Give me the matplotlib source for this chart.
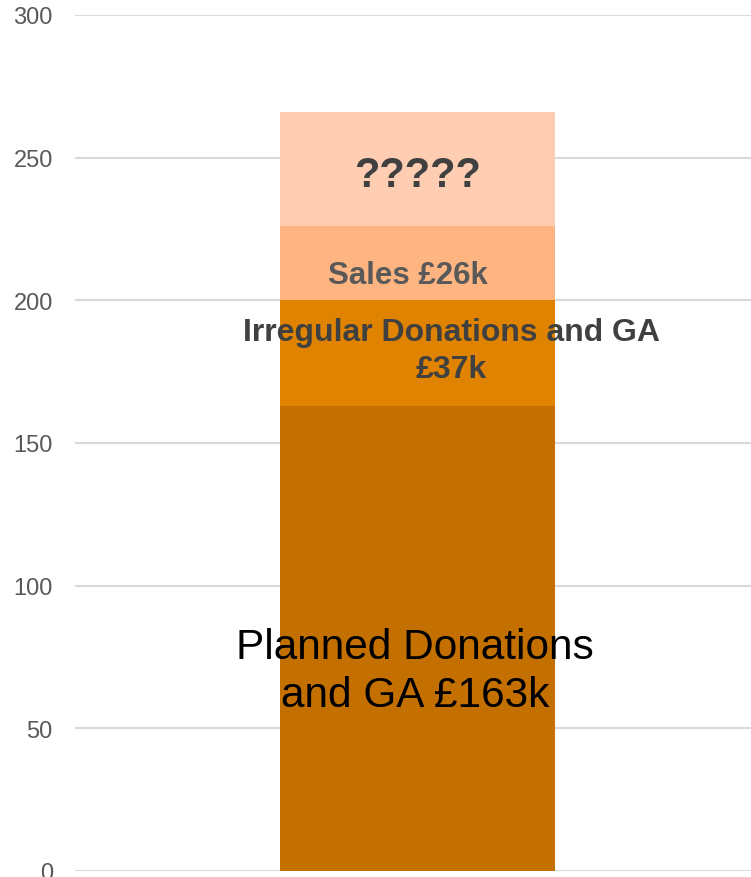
import matplotlib
matplotlib.use("Agg")
import matplotlib.pyplot as plt

plt.rcParams['font.family'] = ['Liberation Sans', 'DejaVu Sans']

categories = ["Income"]
segment_names = ["Planned Donations and GA", "Irregular Donations and GA", "Sales", "Unknown"]
segment_values = [163, 37, 26, 40]
segment_labels = ["Planned Donations\nand GA £163k", "Irregular Donations and GA\n£37k", "Sales £26k", "?????"]
segment_colors = ["#C37000", "#E08300", "#FFB581", "#FFCDB1"]
yticks = [0, 50, 100, 150, 200, 250, 300]

fig = plt.figure(figsize=(7.51, 8.78), dpi=100)
ax = fig.add_axes([75/751, 6/878, 676/751, 856/878])

bottom = 0
bar_w = 0.5
for v, c in zip(segment_values, segment_colors):
    ax.bar(0, v, bottom=bottom, width=bar_w, color=c, zorder=2, linewidth=0)
    bottom += v

ax.set_ylim(0, 300)
ax.set_xlim(-342.5 / 275 * bar_w, 333.5 / 275 * bar_w)
ax.set_yticks(yticks)
ax.set_yticklabels([str(t) for t in yticks])
ax.set_xticks([])
ax.tick_params(axis='y', length=0, pad=16, labelsize=17, labelcolor="#595959")
ax.yaxis.grid(True, color="#d9d9d9", linewidth=1.5, zorder=0)
for s in ax.spines.values():
    s.set_visible(False)

ax.text(-0.005, 70, segment_labels[0], ha='center', va='center', fontsize=30.5,
        color='black', linespacing=1.25, zorder=3)
ax.text(0.062, 182.5, segment_labels[1], ha='center', va='center', fontsize=23,
        fontweight='bold', color='#404040', linespacing=1.32, zorder=3)
ax.text(-0.017, 209, segment_labels[2], ha='center', va='center', fontsize=22.5,
        fontweight='bold', color='#595959', zorder=3)
ax.text(0.0, 244, segment_labels[3], ha='center', va='center', fontsize=30,
        fontweight='bold', color='#404040', zorder=3)

fig.savefig("out.png", dpi=100)
